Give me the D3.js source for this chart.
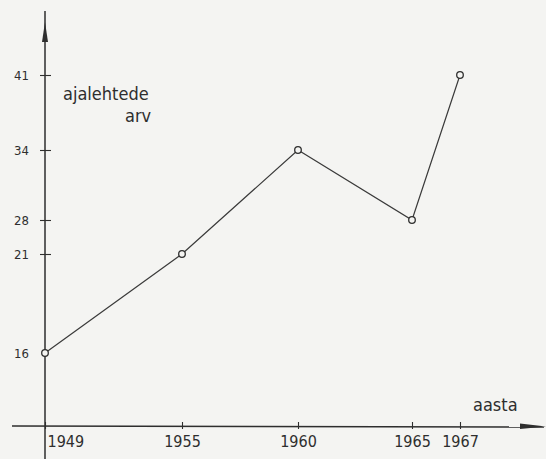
<!DOCTYPE html>
<html><head><meta charset="utf-8">
<script src="https://cdn.jsdelivr.net/npm/d3@7"></script>
<style>
html,body{margin:0;padding:0;background:#f4f4f2;}
svg{display:block;}
</style></head>
<body>
<script>
const years = [1949, 1955, 1960, 1965, 1967];
const values = [16, 21, 34, 28, 41];
const yTicks = [16, 21, 28, 34, 41];
const xTickLabels = ["1949", "1955", "1960", "1965", "1967"];
const yTitle = ["ajalehtede", "arv"];
const xTitle = "aasta";

const W = 546, H = 459;
const ink = "#2e2e2e";
const font = "'DejaVu Sans Condensed', 'DejaVu Sans', sans-serif";

const svg = d3.select("body").append("svg").attr("width", W).attr("height", H);
svg.append("rect").attr("width", W).attr("height", H).attr("fill", "#f4f4f2");

// hand-drawn, non-proportional scales (piecewise linear)
const x = d3.scaleLinear().domain(years).range([45, 182, 298, 412, 460]);
const y = d3.scaleLinear().domain(yTicks).range([353, 254, 220, 150, 75]);

const axisY = 426, axisX = 45;

// x axis line
svg.append("line").attr("x1", 12).attr("x2", 544).attr("y1", axisY).attr("y2", axisY + 1)
  .attr("stroke", ink).attr("stroke-width", 1.4);
svg.append("path").attr("d", `M520,${axisY - 2.5} L546,${axisY + 0.5} L520,${axisY + 3} Z`).attr("fill", ink);

// y axis line
svg.append("line").attr("x1", axisX).attr("x2", axisX).attr("y1", 11).attr("y2", 459)
  .attr("stroke", ink).attr("stroke-width", 1.5);
svg.append("path").attr("d", `M${axisX},22 L${axisX + 3},42 L${axisX - 3},42 Z`).attr("fill", ink);

// x ticks via d3 axis
const xAxis = d3.axisBottom(x).tickValues(years).tickFormat((d, i) => xTickLabels[i])
  .tickSize(4).tickSizeOuter(0);
const gx = svg.append("g").attr("transform", `translate(0,${axisY})`).call(xAxis);
gx.select(".domain").remove();
gx.selectAll(".tick line").attr("stroke", ink).attr("y1", -4).attr("y2", 3).attr("stroke-width", 1.1);
gx.selectAll(".tick text").attr("fill", ink).attr("font-family", font).attr("font-size", 16)
  .attr("y", 10).attr("dy", "0.71em")
  .attr("text-anchor", (d, i) => i === 0 ? "start" : "middle")
  .attr("dx", (d, i) => i === 0 ? 2 : 0);

// y ticks via d3 axis
const yAxis = d3.axisLeft(y).tickValues(yTicks).tickFormat(d3.format("d")).tickSize(6).tickSizeOuter(0);
const gy = svg.append("g").attr("transform", `translate(${axisX},0)`).call(yAxis);
gy.select(".domain").remove();
gy.selectAll(".tick line").attr("stroke", ink).attr("x1", -5).attr("x2", 6).attr("stroke-width", 1.1);
gy.selectAll(".tick").filter(d => d === 16).select("line").remove();
gy.selectAll(".tick text").attr("fill", ink).attr("font-family", font).attr("font-size", 13)
  .attr("x", -16);

// titles
svg.append("text").attr("x", 63).attr("y", 100).attr("fill", ink).attr("font-family", font)
  .attr("font-size", 18).text(yTitle[0]);
svg.append("text").attr("x", 125).attr("y", 122).attr("fill", ink).attr("font-family", font)
  .attr("font-size", 18).text(yTitle[1]);
svg.append("text").attr("x", 473).attr("y", 411).attr("fill", ink).attr("font-family", font)
  .attr("font-size", 18).text(xTitle);

// line
const pts = years.map((yr, i) => [x(yr), y(values[i])]);
svg.append("path").attr("d", d3.line()(pts)).attr("fill", "none").attr("stroke", "#3a3a3a").attr("stroke-width", 1.2);
svg.selectAll("circle.pt").data(pts).enter().append("circle").attr("class", "pt")
  .attr("cx", d => d[0]).attr("cy", d => d[1]).attr("r", 3.3)
  .attr("fill", "#f4f4f2").attr("stroke", "#2e2e2e").attr("stroke-width", 1.3);
</script>
</body></html>
